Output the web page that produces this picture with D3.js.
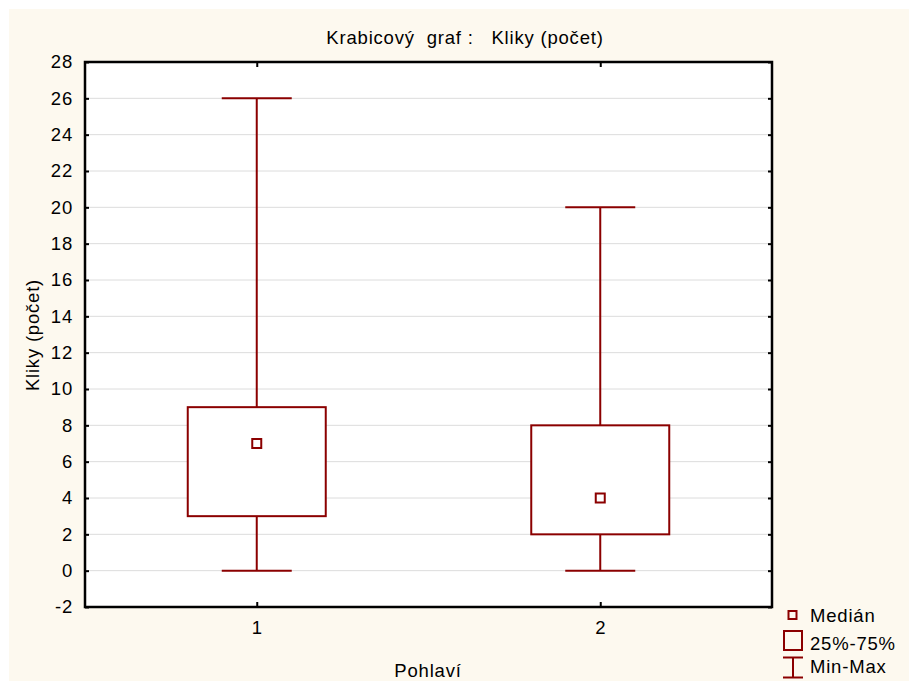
<!DOCTYPE html>
<html>
<head>
<meta charset="utf-8">
<script src="https://cdn.jsdelivr.net/npm/d3@7"></script>
<style>
  html, body { margin: 0; padding: 0; background: #ffffff; }
  svg { display: block; font-family: "Liberation Sans", Arial, sans-serif; }
</style>
</head>
<body>
<svg id="chart" width="909" height="681"></svg>
<script>
// Box plot data per group (Pohlaví)
const groups   = ["1", "2"];
const minVals  = [0, 0];
const q1Vals   = [3, 2];
const medians  = [7, 4];
const q3Vals   = [9, 8];
const maxVals  = [26, 20];
const yTicks   = [-2, 0, 2, 4, 6, 8, 10, 12, 14, 16, 18, 20, 22, 24, 26, 28];
const legendLabels = ["Medián", "25%-75%", "Min-Max"];

const color = "#8b0000";
const fontSize = 18.5;
const spacing = 0.8;
const svg = d3.select("#chart");

// Panel background
svg.append("rect").attr("x", 9).attr("y", 9).attr("width", 900).attr("height", 672)
  .attr("fill", "#fdf9ef");

const plot = { left: 85, top: 62, right: 772, bottom: 607 };

const y = d3.scaleLinear().domain([-2, 28]).range([plot.bottom, plot.top]);
const x = d3.scalePoint().domain(groups).range([plot.left, plot.right]).padding(0.5);

// Plot area
svg.append("rect")
  .attr("x", plot.left).attr("y", plot.top)
  .attr("width", plot.right - plot.left).attr("height", plot.bottom - plot.top)
  .attr("fill", "#ffffff");

// Horizontal grid
svg.append("g").selectAll("line").data(yTicks.slice(1, -1)).join("line")
  .attr("x1", plot.left).attr("x2", plot.right)
  .attr("y1", d => y(d)).attr("y2", d => y(d))
  .attr("stroke", "#dcdcdc").attr("stroke-width", 1);

// Axes
const axisLeft = d3.axisLeft(y).tickValues(yTicks).tickSize(-4).tickPadding(12).tickFormat(d => String(d));
const axisRight = d3.axisRight(y).tickValues(yTicks).tickSize(-4).tickFormat("");
const axisBottom = d3.axisBottom(x).tickSize(-5).tickPadding(14);
const axisTop = d3.axisTop(x).tickSize(-5).tickFormat("");

function styleAxis(g) {
  g.attr("font-size", fontSize).attr("font-family", "'Liberation Sans', Arial, sans-serif");
  g.select(".domain").remove();
  g.selectAll(".tick line").attr("stroke", "#000").attr("stroke-width", 2);
  g.selectAll(".tick text").attr("fill", "#000").attr("letter-spacing", spacing);
}
svg.append("g").attr("transform", `translate(${plot.left},0)`).call(axisLeft).call(styleAxis);
svg.append("g").attr("transform", `translate(${plot.right},0)`).call(axisRight).call(styleAxis);
svg.append("g").attr("transform", `translate(0,${plot.bottom})`).call(axisBottom).call(styleAxis);
svg.append("g").attr("transform", `translate(0,${plot.top})`).call(axisTop).call(styleAxis);

// Frame
svg.append("rect")
  .attr("x", plot.left).attr("y", plot.top)
  .attr("width", plot.right - plot.left).attr("height", plot.bottom - plot.top)
  .attr("fill", "none").attr("stroke", "#000").attr("stroke-width", 2.5);

// Boxes
const boxW = 138, capW = 70, medS = 9;
const data = groups.map((g, i) => ({ g, min: minVals[i], q1: q1Vals[i], med: medians[i], q3: q3Vals[i], max: maxVals[i] }));
const bx = svg.append("g").selectAll("g").data(data).join("g");

bx.append("line")
  .attr("x1", d => x(d.g)).attr("x2", d => x(d.g))
  .attr("y1", d => y(d.max)).attr("y2", d => y(d.min))
  .attr("stroke", color).attr("stroke-width", 2);
bx.append("line")
  .attr("x1", d => x(d.g) - capW / 2).attr("x2", d => x(d.g) + capW / 2)
  .attr("y1", d => y(d.max)).attr("y2", d => y(d.max))
  .attr("stroke", color).attr("stroke-width", 2);
bx.append("line")
  .attr("x1", d => x(d.g) - capW / 2).attr("x2", d => x(d.g) + capW / 2)
  .attr("y1", d => y(d.min)).attr("y2", d => y(d.min))
  .attr("stroke", color).attr("stroke-width", 2);
bx.append("rect")
  .attr("x", d => x(d.g) - boxW / 2).attr("width", boxW)
  .attr("y", d => y(d.q3)).attr("height", d => y(d.q1) - y(d.q3))
  .attr("fill", "#ffffff").attr("stroke", color).attr("stroke-width", 2);
bx.append("rect")
  .attr("x", d => x(d.g) - medS / 2).attr("y", d => y(d.med) - medS / 2)
  .attr("width", medS).attr("height", medS)
  .attr("fill", "#ffffff").attr("stroke", color).attr("stroke-width", 2);

// Title and axis labels
function textStyle(sel) {
  sel.attr("font-size", fontSize).attr("fill", "#000").attr("letter-spacing", spacing)
    .style("white-space", "pre");
}
svg.append("text").attr("x", 465).attr("y", 44).attr("text-anchor", "middle")
  .call(textStyle).text("Krabicový  graf :   Kliky (počet)");
svg.append("text").attr("transform", "translate(39,335) rotate(-90)").attr("text-anchor", "middle")
  .call(textStyle).text("Kliky (počet)");
svg.append("text").attr("x", 428).attr("y", 677).attr("text-anchor", "middle")
  .call(textStyle).text("Pohlaví");

// Legend
const lg = svg.append("g");
lg.append("rect").attr("x", 788.5).attr("y", 611).attr("width", 8).attr("height", 8)
  .attr("fill", "none").attr("stroke", color).attr("stroke-width", 2);
lg.append("rect").attr("x", 784).attr("y", 631).attr("width", 18).attr("height", 19)
  .attr("fill", "none").attr("stroke", color).attr("stroke-width", 2);
lg.append("line").attr("x1", 793).attr("x2", 793).attr("y1", 657).attr("y2", 678)
  .attr("stroke", color).attr("stroke-width", 2);
lg.append("line").attr("x1", 783).attr("x2", 803).attr("y1", 657.5).attr("y2", 657.5)
  .attr("stroke", color).attr("stroke-width", 2);
lg.append("line").attr("x1", 783).attr("x2", 803).attr("y1", 677.5).attr("y2", 677.5)
  .attr("stroke", color).attr("stroke-width", 2);
const legendY = [622, 650, 673];
lg.selectAll("text").data(legendLabels).join("text")
  .attr("x", 810).attr("y", (d, i) => legendY[i])
  .call(textStyle).text(d => d);
</script>
</body>
</html>
